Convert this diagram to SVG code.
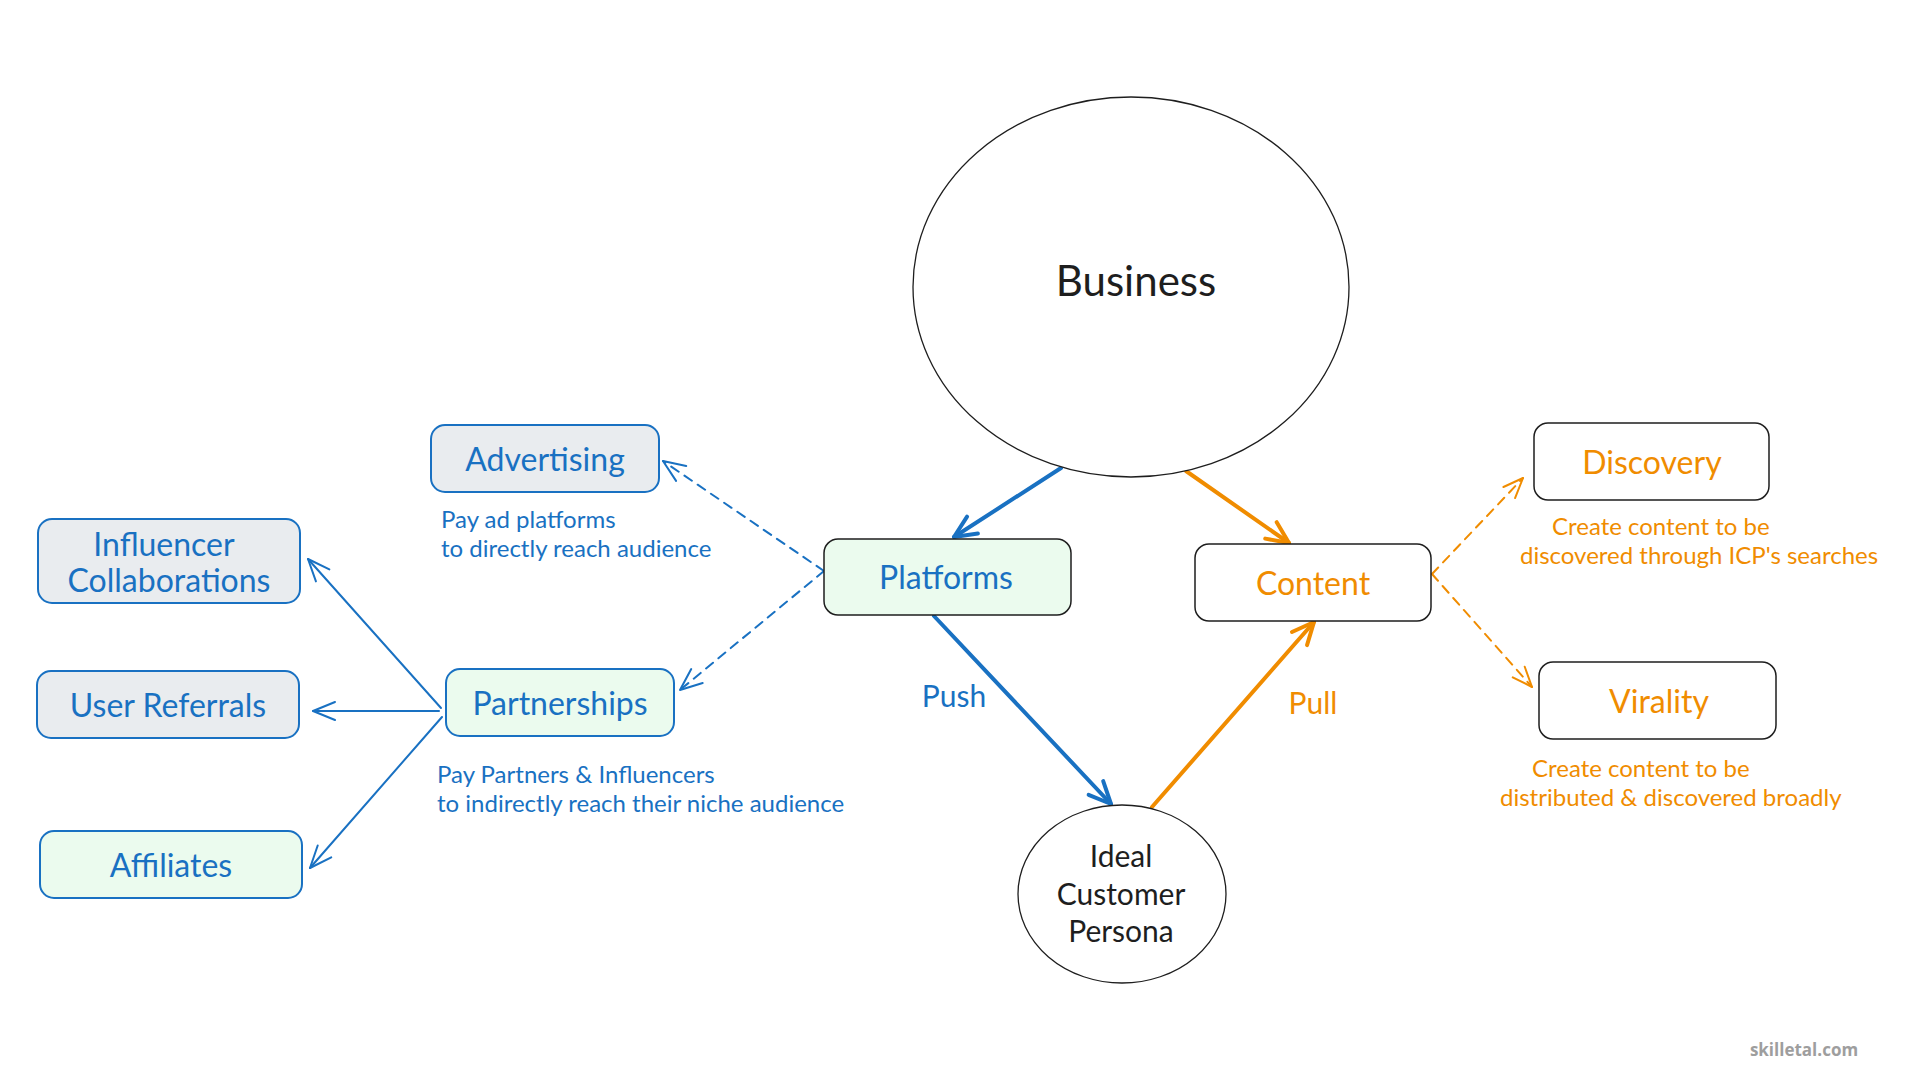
<svg xmlns="http://www.w3.org/2000/svg" width="1920" height="1080" viewBox="0 0 1920 1080">
<style>
  .bg { fill: #ffffff; }
  .lbl { font-family: Lato, "Open Sans", "Liberation Sans", sans-serif; text-anchor: middle; dominant-baseline: central; }
  .node { font-size: 32px; }
  .blue { fill: #1971c2; }
  .orange { fill: #f08c00; }
  .dark { fill: #1e1e1e; }
  .note { font-family: Lato, "Open Sans", "Liberation Sans", sans-serif; font-size: 24px; dominant-baseline: central; }
  .boxBlueGray { fill: #e9ecef; stroke: #1971c2; stroke-width: 2; }
  .boxBlueGreen { fill: #ebfbee; stroke: #1971c2; stroke-width: 2; }
  .boxDarkGreen { fill: #ebfbee; stroke: #1e1e1e; stroke-width: 1.5; }
  .boxDarkWhite { fill: #ffffff; stroke: #1e1e1e; stroke-width: 1.5; }
  .ell { fill: #ffffff; stroke: #1e1e1e; stroke-width: 1.3; }
  .conn { fill: none; stroke-linecap: round; stroke-linejoin: round; }
  .cb { stroke: #1971c2; }
  .co { stroke: #f08c00; }
  .thick { stroke-width: 4; }
  .thin { stroke-width: 2; }
  .dash { stroke-dasharray: 9 7; }
  .wm { font-family: "Open Sans", Lato, sans-serif; font-weight: 700; font-size: 17px; fill: #9e9e9e; text-anchor: middle; dominant-baseline: central; }
</style>
<defs>
  <marker id="ahBlueThick" viewBox="-28 -14 32 28" markerWidth="32" markerHeight="28" refX="0" refY="0" orient="auto" markerUnits="userSpaceOnUse">
    <path d="M -22 -10 L 0 0 L -22 10" fill="none" stroke="#1971c2" stroke-width="4" stroke-linecap="round" stroke-linejoin="round"/>
  </marker>
  <marker id="ahOrangeThick" viewBox="-28 -14 32 28" markerWidth="32" markerHeight="28" refX="0" refY="0" orient="auto" markerUnits="userSpaceOnUse">
    <path d="M -22 -10 L 0 0 L -22 10" fill="none" stroke="#f08c00" stroke-width="4" stroke-linecap="round" stroke-linejoin="round"/>
  </marker>
  <marker id="ahBlueThin" viewBox="-28 -14 32 28" markerWidth="32" markerHeight="28" refX="0" refY="0" orient="auto" markerUnits="userSpaceOnUse">
    <path d="M -22 -9 L 0 0 L -22 9" fill="none" stroke="#1971c2" stroke-width="2" stroke-linecap="round" stroke-linejoin="round"/>
  </marker>
  <marker id="ahOrangeThin" viewBox="-28 -14 32 28" markerWidth="32" markerHeight="28" refX="0" refY="0" orient="auto" markerUnits="userSpaceOnUse">
    <path d="M -20 -8 L 0 0 L -20 8" fill="none" stroke="#f08c00" stroke-width="2" stroke-linecap="round" stroke-linejoin="round"/>
  </marker>
</defs>

<rect class="bg" x="0" y="0" width="1920" height="1080"/>

<g id="connectors">
  <path class="conn cb thick" d="M 1061 468 L 954 537" marker-end="url(#ahBlueThick)"/>
  <path class="conn co thick" d="M 1186 471 L 1289 543" marker-end="url(#ahOrangeThick)"/>
  <path class="conn cb thick" d="M 934 616 L 1111 804" marker-end="url(#ahBlueThick)"/>
  <path class="conn co thick" d="M 1152 807 L 1314 622" marker-end="url(#ahOrangeThick)"/>
  <path class="conn cb thin dash" d="M 824 571 L 663 461" marker-end="url(#ahBlueThin)"/>
  <path class="conn cb thin dash" d="M 824 571 L 680 690" marker-end="url(#ahBlueThin)"/>
  <path class="conn cb thin" d="M 441 708 L 308 559" marker-end="url(#ahBlueThin)"/>
  <path class="conn cb thin" d="M 439 711 L 313 711" marker-end="url(#ahBlueThin)"/>
  <path class="conn cb thin" d="M 442 717 L 310 868" marker-end="url(#ahBlueThin)"/>
  <path class="conn co thin dash" d="M 1432 574 L 1523 478" marker-end="url(#ahOrangeThin)"/>
  <path class="conn co thin dash" d="M 1432 574 L 1532 687" marker-end="url(#ahOrangeThin)"/>
  <text class="lbl blue" x="954" y="695" font-size="30">Push</text>
  <text class="lbl orange" x="1313" y="702" font-size="30">Pull</text>
</g>

<g id="business">
  <ellipse class="ell" cx="1131" cy="287" rx="218" ry="190"/>
  <text class="lbl dark" x="1136" y="280" font-size="42">Business</text>
</g>

<g id="icp">
  <ellipse class="ell" cx="1122" cy="894" rx="104" ry="89"/>
  <text class="lbl dark" x="1121" y="855" font-size="30">Ideal</text>
  <text class="lbl dark" x="1121" y="893" font-size="30">Customer</text>
  <text class="lbl dark" x="1121" y="930" font-size="30">Persona</text>
</g>

<g id="platforms">
  <rect class="boxDarkGreen" x="824" y="539" width="247" height="76" rx="14"/>
  <text class="lbl node blue" x="946" y="576">Platforms</text>
</g>

<g id="content">
  <rect class="boxDarkWhite" x="1195" y="544" width="236" height="77" rx="14"/>
  <text class="lbl node orange" x="1313" y="582">Content</text>
</g>

<g id="discovery">
  <rect class="boxDarkWhite" x="1534" y="423" width="235" height="77" rx="14"/>
  <text class="lbl node orange" x="1652" y="461">Discovery</text>
  <text class="note orange" x="1552" y="525">Create content to be</text>
  <text class="note orange" x="1520" y="554">discovered through ICP's searches</text>
</g>

<g id="virality">
  <rect class="boxDarkWhite" x="1539" y="662" width="237" height="77" rx="14"/>
  <text class="lbl node orange" x="1659" y="700">Virality</text>
  <text class="note orange" x="1532" y="767">Create content to be</text>
  <text class="note orange" x="1500" y="796">distributed &amp; discovered broadly</text>
</g>

<g id="advertising">
  <rect class="boxBlueGray" x="431" y="425" width="228" height="67" rx="14"/>
  <text class="lbl node blue" x="545" y="458">Advertising</text>
  <text class="note blue" x="441" y="518">Pay ad platforms</text>
  <text class="note blue" x="441" y="547">to directly reach audience</text>
</g>

<g id="partnerships">
  <rect class="boxBlueGreen" x="446" y="669" width="228" height="67" rx="14"/>
  <text class="lbl node blue" x="560" y="702">Partnerships</text>
  <text class="note blue" x="437" y="773">Pay Partners &amp; Influencers</text>
  <text class="note blue" x="437" y="802">to indirectly reach their niche audience</text>
</g>

<g id="influencer">
  <rect class="boxBlueGray" x="38" y="519" width="262" height="84" rx="14"/>
  <text class="lbl node blue" x="164" y="543">Influencer</text>
  <text class="lbl node blue" x="169" y="579">Collaborations</text>
</g>

<g id="userReferrals">
  <rect class="boxBlueGray" x="37" y="671" width="262" height="67" rx="14"/>
  <text class="lbl node blue" x="168" y="704">User Referrals</text>
</g>

<g id="affiliates">
  <rect class="boxBlueGreen" x="40" y="831" width="262" height="67" rx="14"/>
  <text class="lbl node blue" x="171" y="864">Affiliates</text>
</g>

<text class="wm" x="1804" y="1049">skilletal.com</text>
</svg>
